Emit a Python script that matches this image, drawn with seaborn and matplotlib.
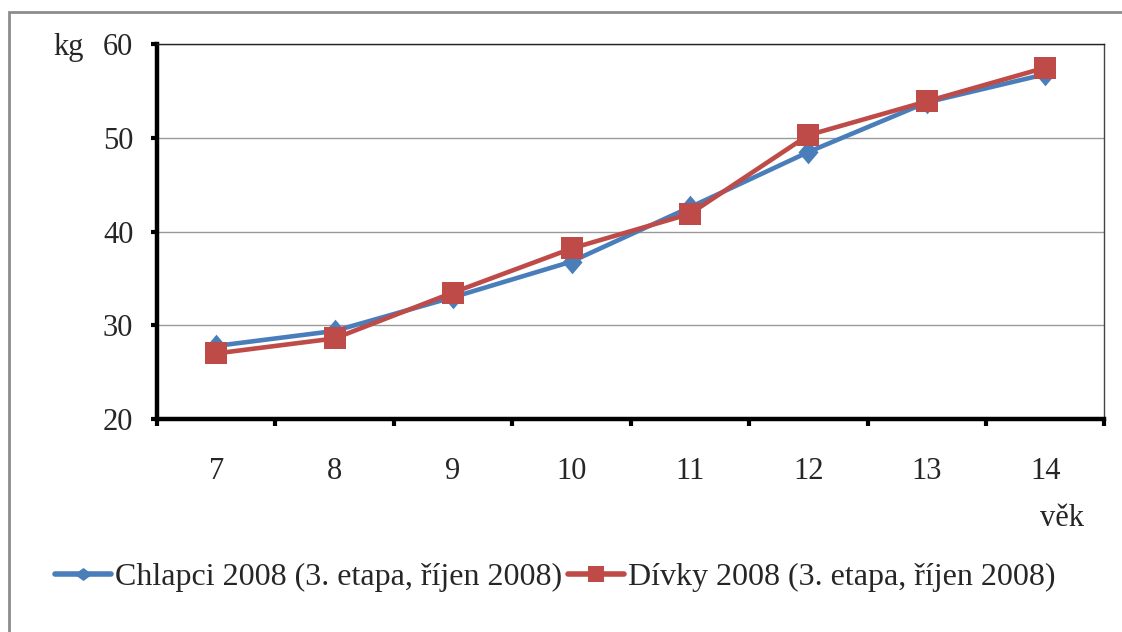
import numpy as np
import pandas as pd
import matplotlib
matplotlib.use("Agg")
import matplotlib.pyplot as plt
from matplotlib.patches import Rectangle
from matplotlib.lines import Line2D
import seaborn as sns

# Age categories and mean body weight (kg)
ages = [7, 8, 9, 10, 11, 12, 13, 14]
chlapci = [27.8, 29.4, 33.0, 36.8, 42.6, 48.5, 53.8, 56.8]
divky = [27.0, 28.6, 33.5, 38.2, 41.9, 50.3, 53.9, 57.5]
y_ticks = [20, 30, 40, 50, 60]
label_chlapci = "Chlapci 2008 (3. etapa, říjen 2008)"
label_divky = "Dívky 2008 (3. etapa, říjen 2008)"

sns.set_style("white")
plt.rcParams["font.family"] = ["Liberation Serif", "DejaVu Serif"]

df = pd.DataFrame({
    "věk": ages * 2,
    "kg": chlapci + divky,
    "série": [label_chlapci] * len(ages) + [label_divky] * len(ages),
})

fig = plt.figure(figsize=(11.22, 6.32), dpi=100)
ax = fig.add_axes([0.1399, 0.337, 0.8445, 0.593])

blue = "#4A7EBB"
red = "#BE4B48"
diamond = [(0, 1), (0.85, 0), (0, -1), (-0.85, 0), (0, 1)]
flat_diamond = [(0, 0.72), (1, 0), (0, -0.72), (-1, 0), (0, 0.72)]

sns.lineplot(data=df, x="věk", y="kg", hue="série", style="série",
             palette={label_chlapci: blue, label_divky: red},
             markers={label_chlapci: diamond, label_divky: "s"},
             dashes=False, markersize=15, linewidth=3.3,
             markeredgewidth=0, legend=False, ax=ax)
for ln, ms in zip(ax.lines, [17, 15.5]):
    ln.set_markersize(ms)

ax.set_xlim(6.5, 14.5)
ax.set_ylim(20, 60)
ax.set_xlabel("")
ax.set_ylabel("")

fs = 22
ax.set_yticks(y_ticks)
ax.set_xticks(ages)
ax.set_xticks(np.arange(6.5, 14.6, 1.0), minor=True)
ax.tick_params(axis="x", which="major", length=0, pad=27, labelsize=fs)
ax.tick_params(axis="x", which="minor", length=5, width=3, color="black",
               direction="out", bottom=True)
ax.tick_params(axis="y", which="major", length=4, width=3, color="black",
               direction="out", left=True, pad=13, labelsize=fs)

ax.yaxis.grid(True, color="#9a9a9a", linewidth=1.0)
ax.xaxis.grid(False)
ax.set_axisbelow(True)

for side in ["left", "bottom"]:
    ax.spines[side].set_linewidth(3.2)
    ax.spines[side].set_color("black")
ax.spines["top"].set_linewidth(1.0)
ax.spines["top"].set_color("#222222")
ax.spines["right"].set_linewidth(1.0)
ax.spines["right"].set_color("#444444")

fig.text(53 / 1122, 1 - 47 / 632, "kg", fontsize=fs, va="center", ha="left")
fig.text(1062 / 1122, 1 - 518 / 632, "věk", fontsize=fs, va="center", ha="center")

handles = [
    Line2D([], [], color=blue, lw=4.0, marker=flat_diamond, markersize=13, markeredgewidth=0),
    Line2D([], [], color=red, lw=4.0, marker="s", markersize=11.5, markeredgewidth=0),
]
fig.legend(handles, [label_chlapci, label_divky], loc="center",
           bbox_to_anchor=(0.495, 1 - 577 / 632), ncol=2, frameon=False,
           fontsize=23, handlelength=1.75, handletextpad=0.12, columnspacing=0.2)

# Chart area border
fig.patches.append(Rectangle((9 / 1122, -0.05), 1.2, 1 - 12 / 632 + 0.05,
                             transform=fig.transFigure, fill=False,
                             edgecolor="#8c8c8c", linewidth=2.0))

fig.savefig("out.png", dpi=100)
